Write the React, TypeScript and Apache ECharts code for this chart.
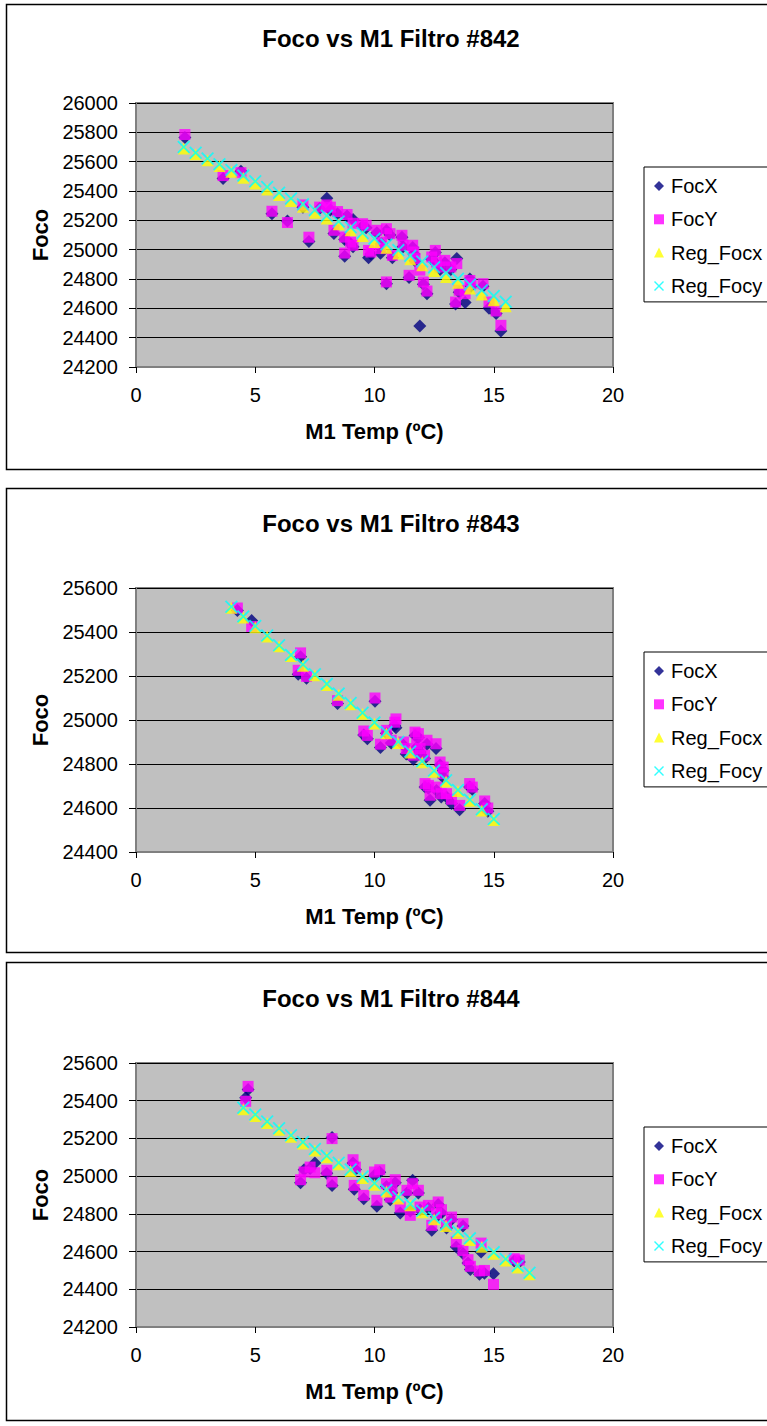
import React, { useEffect, useRef } from "react";
import * as echarts from "echarts";

const FONT = '"Liberation Sans", Arial, Helvetica, sans-serif';

// Chart titles and axis ranges
const filterNames = ["#842", "#843", "#844"];
const yMins = [24200, 24400, 24200];
const yMaxs = [26000, 25600, 25600];
const yStep = 200;
const xMin = 0;
const xMax = 20;
const xStep = 5;
const seriesNames = ["FocX", "FocY", "Reg_Focx", "Reg_Focy"];

// Filtro #842 measurements
const temp842 = [2.05, 3.65, 4.4, 5.7, 6.35, 7.0, 7.25, 7.7, 8.0, 8.15, 8.3, 8.45, 8.75, 8.75, 8.85, 9.0, 9.1, 9.1, 9.5, 9.65, 9.75, 9.85, 10.1, 10.25, 10.3, 10.5, 10.5, 10.65, 10.75, 11.15, 11.2, 11.45, 11.6, 11.65, 11.7, 11.9, 12.05, 12.2, 12.4, 12.55, 12.6, 12.75, 12.95, 13.2, 13.45, 13.4, 13.55, 13.8, 14.0, 14.05, 14.55, 14.8, 15.1, 15.3];
const focX842 = [25765, 25485, 25535, 25245, 25195, 25290, 25055, 25280, 25350, 25270, 25110, 25245, 24955, 25070, 25230, 25040, 25205, 25020, 25160, 25150, 24945, 24970, 25115, 24975, 25040, 25130, 24768, 25100, 24945, 25085, 25020, 24810, 25015, 24970, 24925, 24480, 24765, 24700, 24935, 24980, 24900, 24865, 24910, 24865, 24940, 24630, 24710, 24640, 24800, 24750, 24750, 24600, 24565, 24445];
const focY842 = [25785, 25505, 25525, 25262, 25185, 25305, 25085, 25290, 25305, 25290, 25132, 25260, 24977, 25086, 25240, 25052, 25180, 25030, 25177, 25166, 24995, 24984, 25132, 25007, 25052, 25143, 24780, 25109, 24961, 25098, 25030, 24825, 25030, 24984, 24939, 24860, 24780, 24718, 24950, 24995, 24916, 24882, 24927, 24882, 24905, 24643, 24723, 24700, 24790, 24768, 24768, 24643, 24582, 24484];
const regTemp842 = [2, 2.5, 3, 3.5, 4, 4.5, 5, 5.5, 6, 6.5, 7, 7.5, 8, 8.5, 9, 9.5, 10, 10.5, 11, 11.5, 12, 12.5, 13, 13.5, 14, 14.5, 15, 15.5];
const regFocx842 = [25690, 25650, 25610, 25571, 25531, 25491, 25451, 25411, 25372, 25332, 25292, 25252, 25212, 25173, 25133, 25093, 25053, 25013, 24974, 24934, 24894, 24854, 24814, 24775, 24735, 24695, 24655, 24615];
const regFocy842 = [25700, 25661, 25622, 25583, 25544, 25505, 25466, 25427, 25388, 25349, 25309, 25270, 25231, 25192, 25153, 25114, 25075, 25036, 24997, 24958, 24919, 24880, 24841, 24802, 24762, 24723, 24684, 24645];

// Filtro #843 measurements
const temp843 = [4.25, 4.85, 6.9, 6.8, 7.15, 8.45, 9.55, 9.7, 10.02, 10.25, 10.5, 10.7, 10.9, 10.85, 11.22, 11.33, 11.63, 11.7, 11.84, 11.77, 11.91, 12.1, 12.12, 12.26, 12.33, 12.2, 12.58, 12.6, 12.75, 12.88, 12.88, 12.8, 13.02, 13.23, 13.57, 13.99, 14.1, 14.62, 14.75];
const focX843 = [25498, 25452, 25288, 25208, 25190, 25075, 24932, 24915, 25085, 24875, 24940, 24895, 24965, 24975, 24885, 24845, 24822, 24930, 24920, 24875, 24855, 24825, 24695, 24690, 24635, 24890, 24870, 24680, 24795, 24770, 24740, 24650, 24650, 24620, 24592, 24695, 24685, 24620, 24585];
const focY843 = [25509, 25425, 25305, 25226, 25198, 25088, 24950, 24930, 25100, 24890, 24953, 24908, 25005, 24990, 24900, 24870, 24840, 24945, 24938, 24892, 24870, 24840, 24711, 24703, 24658, 24908, 24892, 24695, 24809, 24786, 24756, 24665, 24665, 24640, 24612, 24711, 24695, 24632, 24600];
const regTemp843 = [4, 4.5, 5, 5.5, 6, 6.5, 7, 7.5, 8, 8.5, 9, 9.5, 10, 10.5, 11, 11.5, 12, 12.5, 13, 13.5, 14, 14.5, 15];
const regFocx843 = [25510, 25466, 25422, 25379, 25335, 25291, 25247, 25203, 25159, 25115, 25072, 25028, 24984, 24940, 24896, 24852, 24808, 24765, 24721, 24677, 24633, 24589, 24545];
const regFocy843 = [25515, 25471, 25427, 25384, 25340, 25296, 25252, 25208, 25164, 25120, 25077, 25033, 24989, 24945, 24901, 24857, 24813, 24770, 24726, 24682, 24638, 24594, 24550];

// Filtro #844 measurements
const temp844 = [4.7, 4.6, 6.9, 7.05, 7.3, 7.5, 8.0, 8.22, 8.22, 9.1, 9.2, 9.15, 9.55, 10.0, 10.22, 10.1, 10.5, 10.87, 10.73, 10.66, 11.08, 11.36, 11.6, 11.84, 11.5, 11.91, 12.26, 12.67, 12.4, 12.6, 12.81, 13.02, 13.23, 13.71, 13.43, 13.71, 13.92, 14.02, 14.4, 14.61, 14.99, 14.47, 15.86, 16.07];
const focX844 = [25460, 25416, 24965, 25034, 25040, 25070, 25015, 24951, 25205, 25070, 25035, 24930, 24880, 25005, 25020, 24840, 24945, 24965, 24910, 24875, 24805, 24910, 24978, 24910, 24815, 24820, 24830, 24850, 24713, 24785, 24805, 24725, 24770, 24735, 24624, 24590, 24540, 24505, 24480, 24485, 24483, 24598, 24550, 24545];
const focY844 = [25476, 25397, 24981, 25022, 25048, 25018, 25031, 24969, 25199, 25087, 25048, 24951, 24898, 25022, 25034, 24872, 24960, 24981, 24925, 24889, 24836, 24925, 24960, 24925, 24792, 24836, 24845, 24863, 24739, 24801, 24822, 24739, 24783, 24748, 24651, 24606, 24557, 24522, 24497, 24500, 24426, 24645, 24562, 24555];
const regTemp844 = [4.5, 5, 5.5, 6, 6.5, 7, 7.5, 8, 8.5, 9, 9.5, 10, 10.5, 11, 11.5, 12, 12.5, 13, 13.5, 14, 14.5, 15, 15.5, 16, 16.5];
const regFocx844 = [25355, 25319, 25282, 25246, 25209, 25173, 25136, 25100, 25063, 25027, 24990, 24954, 24918, 24881, 24845, 24808, 24772, 24735, 24699, 24662, 24626, 24589, 24553, 24516, 24480];
const regFocy844 = [25363, 25327, 25290, 25254, 25217, 25181, 25144, 25108, 25071, 25035, 24998, 24962, 24926, 24889, 24853, 24816, 24780, 24743, 24707, 24670, 24634, 24597, 24561, 24524, 24488];

const charts = [
  { temp: temp842, focX: focX842, focY: focY842, regTemp: regTemp842, regX: regFocx842, regY: regFocy842 },
  { temp: temp843, focX: focX843, focY: focY843, regTemp: regTemp843, regX: regFocx843, regY: regFocy843 },
  { temp: temp844, focX: focX844, focY: focY844, regTemp: regTemp844, regX: regFocx844, regY: regFocy844 },
];

// Layout of the three stacked panels
const PAGE_W = 767;
const PAGE_H = 1426;
const panelTops = [4, 488, 962];
const panelHeights = [465, 464, 458];
const gridTops = [103, 588, 1063];
const GRID_LEFT = 136;
const GRID_WIDTH = 477;
const GRID_HEIGHT = 264;

const CROSS = "path://M1,0 L5,4 L9,0 L10,1 L6,5 L10,9 L9,10 L5,6 L1,10 L0,9 L4,5 L0,1 Z";

const zip = (xs: number[], ys: number[]) => xs.map((x, i) => [x, ys[i]]);

function buildOption() {
  const grid: any[] = [];
  const xAxis: any[] = [];
  const yAxis: any[] = [];
  const series: any[] = [];
  const title: any[] = [];
  const legend: any[] = [];
  const graphic: any[] = [];

  charts.forEach((c, i) => {
    const top = gridTops[i];
    graphic.push({
      type: "rect",
      silent: true,
      z: -10,
      shape: { x: 6.5, y: panelTops[i] + 0.5, width: 790, height: panelHeights[i] },
      style: { fill: "#ffffff", stroke: "#000000", lineWidth: 1.5 },
    });
    title.push({
      text: "Foco vs M1 Filtro " + filterNames[i],
      left: 391,
      top: top - 77,
      textAlign: "center",
      padding: 0,
      textStyle: { fontFamily: FONT, fontSize: 24, fontWeight: "bold", color: "#000" },
    });
    grid.push({
      left: GRID_LEFT,
      top,
      width: GRID_WIDTH,
      height: GRID_HEIGHT,
      show: true,
      backgroundColor: "#C0C0C0",
      borderColor: "#808080",
      borderWidth: 2,
    });
    xAxis.push({
      type: "value",
      gridIndex: i,
      min: xMin,
      max: xMax,
      interval: xStep,
      name: "M1 Temp (ºC)",
      nameLocation: "middle",
      nameGap: 53,
      nameTextStyle: { fontFamily: FONT, fontSize: 22, fontWeight: "bold", color: "#000" },
      axisLine: { show: true, onZero: false, lineStyle: { color: "#808080", width: 2 } },
      axisTick: { show: true, inside: false, length: 6, lineStyle: { color: "#000", width: 1 } },
      axisLabel: { margin: 18, fontFamily: FONT, fontSize: 20, color: "#000", formatter: (v: number) => String(v) },
      splitLine: { show: false },
    });
    yAxis.push({
      type: "value",
      gridIndex: i,
      min: yMins[i],
      max: yMaxs[i],
      interval: yStep,
      name: "Foco",
      nameLocation: "middle",
      nameGap: 84,
      nameTextStyle: { fontFamily: FONT, fontSize: 22, fontWeight: "bold", color: "#000" },
      axisLine: { show: true, onZero: false, lineStyle: { color: "#808080", width: 2 } },
      axisTick: { show: true, inside: false, length: 7, lineStyle: { color: "#000", width: 1 } },
      axisLabel: { margin: 18, fontFamily: FONT, fontSize: 20, color: "#000", formatter: (v: number) => String(v) },
      splitLine: { show: true, lineStyle: { color: "#000", width: 1 } },
    });
    const common = { type: "scatter", xAxisIndex: i, yAxisIndex: i, silent: true };
    series.push(
      { ...common, name: "FocX", symbol: "diamond", symbolSize: 13, itemStyle: { color: "#000080" }, data: zip(c.temp, c.focX) },
      { ...common, name: "FocY", symbol: "rect", symbolSize: 11, itemStyle: { color: "#FF00FF" }, data: zip(c.temp, c.focY) },
      { ...common, name: "Reg_Focx", symbol: "triangle", symbolSize: 12, itemStyle: { color: "#FFFF00" }, data: zip(c.regTemp, c.regX) },
      { ...common, name: "Reg_Focy", symbol: CROSS, symbolSize: 13, itemStyle: { color: "#00FFFF" }, data: zip(c.regTemp, c.regY) }
    );
    legend.push({
      orient: "vertical",
      left: 644,
      top: top + 64,
      padding: [9, 24, 6, 10],
      itemGap: 13.3,
      itemWidth: 10,
      itemHeight: 10,
      backgroundColor: "#fff",
      borderColor: "#000",
      borderWidth: 1,
      selectedMode: false,
      textStyle: { fontFamily: FONT, fontSize: 20, color: "#000", lineHeight: 20, padding: [0, 0, 0, 2] },
      data: seriesNames,
    });
  });

  return {
    animation: false,
    backgroundColor: "#ffffff",
    graphic,
    title,
    legend,
    grid,
    xAxis,
    yAxis,
    series,
  };
}

export default function App() {
  const ref = useRef<HTMLDivElement>(null);
  useEffect(() => {
    if (!ref.current) return;
    const chart = echarts.init(ref.current, undefined, { renderer: "svg" });
    chart.setOption(buildOption());
    return () => chart.dispose();
  }, []);
  return (
    <div
      ref={ref}
      style={{ position: "absolute", left: 0, top: 0, width: PAGE_W, height: PAGE_H, overflow: "hidden", background: "#fff" }}
    />
  );
}
